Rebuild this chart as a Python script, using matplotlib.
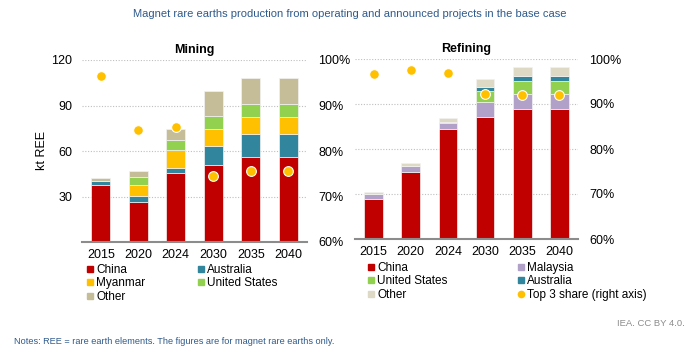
import matplotlib
matplotlib.use("Agg")
import matplotlib.pyplot as plt
from matplotlib.lines import Line2D
import numpy as np

plt.rcParams['font.family'] = ['Liberation Sans', 'DejaVu Sans']

years = ["2015", "2020", "2024", "2030", "2035", "2040"]

# Mining (kt REE)
mine_china = [37.7, 26.5, 45.3, 50.8, 56.3, 56.3]
mine_australia = [2.6, 3.7, 3.3, 12.5, 14.6, 14.6]
mine_myanmar = [0.0, 7.5, 12.1, 10.9, 11.2, 11.2]
mine_us = [0.0, 5.4, 6.7, 9.0, 9.0, 9.0]
mine_other = [2.0, 3.5, 7.0, 16.6, 17.1, 17.1]
mine_top3 = [96.4, 84.6, 85.3, 74.4, 75.7, 75.7]

# Refining (kt REE, axis not shown)
ref_china = [26.8, 44.8, 73.6, 81.2, 86.5, 86.5]
ref_malaysia = [3.2, 4.2, 3.6, 10.4, 10.2, 10.2]
ref_us = [0.0, 0.0, 1.1, 6.9, 8.9, 8.9]
ref_australia = [0.0, 0.0, 0.0, 2.7, 3.1, 3.1]
ref_other = [1.5, 1.8, 2.7, 5.7, 6.0, 6.0]
ref_top3 = [96.7, 97.6, 97.0, 92.2, 92.0, 92.0]

C_CHINA = "#C00000"
C_AUS = "#31859C"
C_MYA = "#FFC000"
C_US = "#92D050"
C_OTHER_M = "#C4BD97"
C_OTHER_R = "#DDD9C4"
C_MAL = "#B1A0C7"
C_DOT = "#FFC000"

fig = plt.figure(figsize=(6.9, 3.58), dpi=100)

ax1 = fig.add_axes([82/690, 1-242/358, (307-82)/690, (242-60)/358])
ax2 = fig.add_axes([355/690, 1-239/358, (578-355)/690, (239-59)/358])

def stacked(ax, series, colors):
    x = np.arange(len(years))
    bottom = np.zeros(len(years))
    for vals, col in zip(series, colors):
        v = np.array(vals, dtype=float)
        ax.bar(x, v, bottom=bottom, width=0.5, color=col, edgecolor="#F2F2F2",
               linewidth=0.5, zorder=3)
        bottom += v
    return x

def style(ax, show_left):
    ax.set_ylim(0, 120)
    ax.set_xlim(-0.5, 5.5)
    ax.set_yticks([30, 60, 90, 120])
    ax.yaxis.grid(True, linestyle=(0, (1, 1.5)), color="#BFBFBF", linewidth=0.8, zorder=0)
    ax.set_axisbelow(True)
    for s in ["top", "right", "left"]:
        ax.spines[s].set_visible(False)
    ax.spines["bottom"].set_color("#8C8C8C")
    ax.spines["bottom"].set_linewidth(1.5)
    ax.spines["bottom"].set_zorder(5)
    ax.set_xticks(np.arange(len(years)))
    ax.set_xticklabels(years, fontsize=9)
    ax.tick_params(axis="x", length=0, pad=5)
    ax.tick_params(axis="y", length=0, pad=7, labelsize=9)
    if not show_left:
        ax.tick_params(axis="y", labelleft=False)

x = stacked(ax1, [mine_china, mine_australia, mine_myanmar, mine_us, mine_other],
            [C_CHINA, C_AUS, C_MYA, C_US, C_OTHER_M])
style(ax1, True)
ax1.set_ylabel("kt REE", fontsize=9, labelpad=2)
ax1.set_title("Mining", fontsize=9, fontweight="bold", pad=5)

x2 = stacked(ax2, [ref_china, ref_malaysia, ref_us, ref_australia, ref_other],
             [C_CHINA, C_MAL, C_US, C_AUS, C_OTHER_R])
style(ax2, False)
ax2.set_title("Refining", fontsize=9, fontweight="bold", pad=5)

for ax, share in [(ax1, mine_top3), (ax2, ref_top3)]:
    tw = ax.twinx()
    tw.set_ylim(60, 100)
    tw.set_yticks([60, 70, 80, 90, 100])
    tw.set_yticklabels([f"{v}%" for v in [60, 70, 80, 90, 100]])
    tw.tick_params(axis="y", length=0, pad=8, labelsize=9)
    for s in ["top", "right", "left", "bottom"]:
        tw.spines[s].set_visible(False)
    tw.plot(np.arange(len(years)), share, linestyle="none", marker="o", markersize=7,
            markerfacecolor=C_DOT, markeredgecolor="white", markeredgewidth=0.8, zorder=6)

def sq(c):
    return Line2D([], [], linestyle="none", marker="s", markersize=4.5, color=c)

def legend_col(handles, labels, xpx, ypx):
    leg = fig.legend(handles, labels, loc="upper left",
                     bbox_to_anchor=(xpx/690, 1-ypx/358), frameon=False,
                     fontsize=8.5, handlelength=0.6, handletextpad=0.25,
                     borderpad=0, borderaxespad=0, labelspacing=0.12)
    return leg

legend_col([sq(C_CHINA), sq(C_MYA), sq(C_OTHER_M)], ["China", "Myanmar", "Other"], 86, 264)
legend_col([sq(C_AUS), sq(C_US)], ["Australia", "United States"], 197, 264)
legend_col([sq(C_CHINA), sq(C_US), sq(C_OTHER_R)], ["China", "United States", "Other"], 367, 262)
legend_col([sq(C_MAL), sq(C_AUS),
            Line2D([], [], linestyle="none", marker="o", markersize=4.5, color=C_DOT)],
           ["Malaysia", "Australia", "Top 3 share (right axis)"], 517, 262)

fig.text(350/690, 1-14/358, "Magnet rare earths production from operating and announced projects in the base case",
         ha="center", va="center", fontsize=8, color="#2E5A8C")
fig.text(14/690, 1-341/358, "Notes: REE = rare earth elements. The figures are for magnet rare earths only.",
         ha="left", va="center", fontsize=6.6, color="#2E5A8C")
fig.text(685/690, 1-323/358, "IEA. CC BY 4.0.", ha="right", va="center", fontsize=6.8, color="#8C8C8C")

fig.savefig("out.png", dpi=100)
